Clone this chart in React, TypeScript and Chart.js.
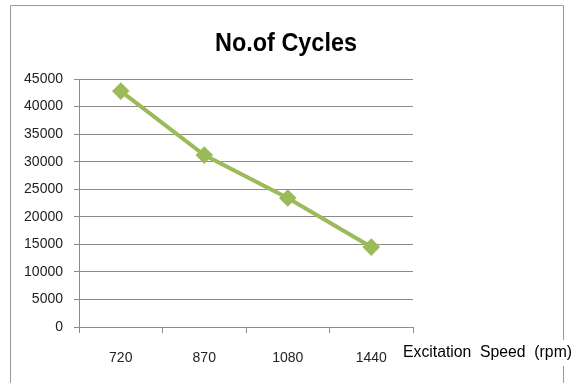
import React, { useEffect, useRef } from "react";
import { Chart, registerables } from "chart.js";

Chart.register(...registerables);

const categories = ["720", "870", "1080", "1440"];
const cycles = [42800, 31200, 23400, 14500];
const chartTitle = "No.of Cycles";
const xAxisTitle = "Excitation  Speed  (rpm)";
const yMin = 0;
const yMax = 45000;
const yStep = 5000;

const GRID = "#8c8c8c";
const GREEN = "#9bbb59";

const framePlugin = {
  id: "frame",
  beforeDraw(chart: any) {
    const ctx = chart.ctx;
    ctx.save();
    ctx.fillStyle = "#ffffff";
    ctx.fillRect(0, 0, chart.width, chart.height);
    ctx.strokeStyle = "#9a9a9a";
    ctx.lineWidth = 1;
    ctx.beginPath();
    ctx.moveTo(10.5, 383);
    ctx.lineTo(10.5, 5.5);
    ctx.lineTo(563.5, 5.5);
    ctx.lineTo(563.5, 383);
    ctx.stroke();
    ctx.restore();
  },
  afterDraw(chart: any) {
    const ctx = chart.ctx;
    const area = chart.chartArea;
    ctx.save();
    ctx.fillStyle = "#000000";
    ctx.font = "bold 25px 'Liberation Sans', Arial, sans-serif";
    ctx.textAlign = "center";
    ctx.textBaseline = "alphabetic";
    ctx.fillText(chartTitle, 286, 51, 142);
    ctx.font = "17px 'Liberation Sans Narrow', 'Liberation Sans', Arial, sans-serif";
    ctx.textAlign = "left";
    ctx.textBaseline = "middle";
    const w = Math.min(ctx.measureText(xAxisTitle).width, 169);
    const x0 = area.right - 10;
    ctx.fillStyle = "#ffffff";
    ctx.fillRect(x0 - 2, 340, w + 6, 26);
    ctx.fillStyle = "#000000";
    ctx.fillText(xAxisTitle, x0, 352, 169);
    ctx.restore();
  },
};

export default function App() {
  const ref = useRef<HTMLCanvasElement | null>(null);
  useEffect(() => {
    if (!ref.current) return;
    const chart = new Chart(ref.current, {
      type: "line",
      data: {
        labels: categories,
        datasets: [
          {
            data: cycles,
            borderColor: GREEN,
            backgroundColor: GREEN,
            borderWidth: 4,
            pointStyle: "rectRot",
            pointRadius: 6,
            pointBackgroundColor: GREEN,
            pointBorderColor: GREEN,
            tension: 0,
          },
        ],
      },
      options: {
        animation: false,
        responsive: false,
        maintainAspectRatio: false,
        layout: { padding: { left: 0, top: 79, right: 161, bottom: 0 } },
        plugins: {
          legend: { display: false },
          title: { display: false },
          tooltip: { enabled: false },
        },
        scales: {
          x: {
            type: "category",
            offset: true,
            grid: {
              offset: true,
              drawOnChartArea: false,
              drawTicks: true,
              tickLength: 6,
              color: GRID,
            },
            border: { display: true, color: GRID, width: 1 },
            ticks: {
              color: "#222222",
              font: { family: "'Liberation Sans', Arial, sans-serif", size: 14 },
              padding: 17,
              maxRotation: 0,
            },
            afterFit(scale: any) {
              scale.height = 56;
            },
          },
          y: {
            min: yMin,
            max: yMax,
            grid: {
              color: GRID,
              drawTicks: true,
              tickLength: 5,
            },
            border: { display: true, color: GRID, width: 1 },
            ticks: {
              stepSize: yStep,
              color: "#222222",
              font: { family: "'Liberation Sans', Arial, sans-serif", size: 14 },
              padding: 11,
              callback: (v: any) => String(v),
            },
            afterFit(scale: any) {
              scale.width = 79;
            },
          },
        },
      },
      plugins: [framePlugin],
    });
    return () => chart.destroy();
  }, []);

  return (
    <div style={{ position: "fixed", left: 0, top: 0, width: 574, height: 383, background: "#fff" }}>
      <canvas ref={ref} width={574} height={383} style={{ width: 574, height: 383, display: "block" }} />
    </div>
  );
}
